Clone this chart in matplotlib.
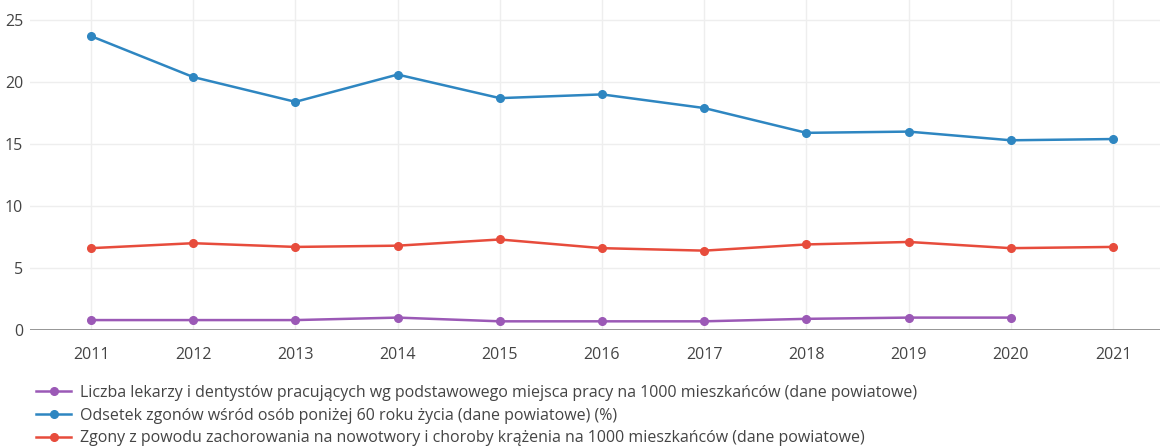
import matplotlib
matplotlib.use("Agg")
import matplotlib.pyplot as plt
from matplotlib.lines import Line2D

plt.rcParams['font.family'] = ['Open Sans', 'DejaVu Sans']

years = [2011, 2012, 2013, 2014, 2015, 2016, 2017, 2018, 2019, 2020, 2021]
lekarze_years = [2011, 2012, 2013, 2014, 2015, 2016, 2017, 2018, 2019, 2020]
lekarze = [0.8, 0.8, 0.8, 1.0, 0.7, 0.7, 0.7, 0.9, 1.0, 1.0]
odsetek = [23.7, 20.4, 18.4, 20.6, 18.7, 19.0, 17.9, 15.9, 16.0, 15.3, 15.4]
zgony = [6.6, 7.0, 6.7, 6.8, 7.3, 6.6, 6.4, 6.9, 7.1, 6.6, 6.7]

labels = [
    "Liczba lekarzy i dentystów pracujących wg podstawowego miejsca pracy na 1000 mieszkańców (dane powiatowe)",
    "Odsetek zgonów wśród osób poniżej 60 roku życia (dane powiatowe) (%)",
    "Zgony z powodu zachorowania na nowotwory i choroby krążenia na 1000 mieszkańców (dane powiatowe)",
]
colors = ["#9b59b6", "#2e86c1", "#e74c3c"]

fig = plt.figure(figsize=(11.6, 4.46), dpi=100)
ax = fig.add_axes([30/1160, 116/446, 1 - 30/1160, 330/446])

ax.plot(lekarze_years, lekarze, color=colors[0], lw=1.8, marker='o', ms=5.5, zorder=3)
ax.plot(years, odsetek, color=colors[1], lw=1.8, marker='o', ms=5.5, zorder=3)
ax.plot(years, zgony, color=colors[2], lw=1.8, marker='o', ms=5.5, zorder=3)

ax.set_xlim(2011 - 61/102.2, 2021 + 47/102.2)
ax.set_ylim(0, 25 + 20/12.4)
ax.set_xticks(years)
ax.set_yticks([0, 5, 10, 15, 20, 25])
ax.grid(True, color="#eeeeee", lw=1)
ax.set_axisbelow(True)
for s in ax.spines.values():
    s.set_visible(False)
ax.axhline(0, color="#8c8c8c", lw=2, zorder=2)
ax.tick_params(length=0, labelsize=11.5, colors="#444444")
ax.tick_params(axis='x', pad=12)
ax.tick_params(axis='y', pad=5)

handles = [Line2D([], [], color=c, lw=1.8, marker='o', ms=5.5) for c in colors]
fig.legend(handles, labels, loc='upper left', bbox_to_anchor=(36/1160, 1 - 385/446),
           frameon=False, fontsize=11.5, labelcolor="#444444", handlelength=2.2,
           handletextpad=0.55, labelspacing=0.42, borderaxespad=0, borderpad=0)

fig.savefig("out.png", dpi=100, facecolor="white")
